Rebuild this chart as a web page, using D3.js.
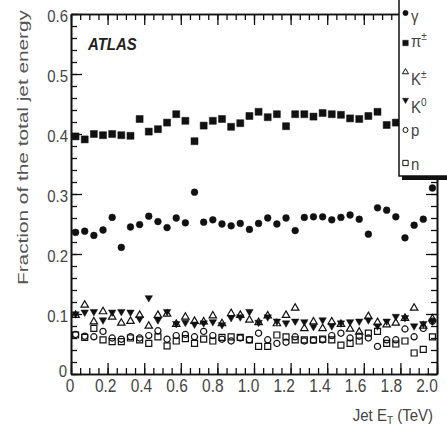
<!DOCTYPE html>
<html>
<head>
<meta charset="utf-8">
<script src="https://cdn.jsdelivr.net/npm/d3@7"></script>
<style>
  html, body { margin: 0; padding: 0; background: #fff; }
  svg { display: block; }
  text { font-family: "Liberation Sans", Arial, sans-serif; }
</style>
</head>
<body>
<script>
// Jet energy fractions carried by each particle species, in 50 GeV bins of jet E_T
const etBins = [0.025, 0.075, 0.125, 0.175, 0.225, 0.275, 0.325, 0.375, 0.425, 0.475,
                0.525, 0.575, 0.625, 0.675, 0.725, 0.775, 0.825, 0.875, 0.925, 0.975,
                1.025, 1.075, 1.125, 1.175, 1.225, 1.275, 1.325, 1.375, 1.425, 1.475,
                1.525, 1.575, 1.625, 1.675, 1.725, 1.775, 1.825, 1.875, 1.925, 1.975];

const photon = [0.236, 0.238, 0.231, 0.240, 0.261, 0.211, 0.245, 0.249, 0.263, 0.254,
                0.244, 0.260, 0.252, 0.303, 0.253, 0.257, 0.250, 0.247, 0.251, 0.241,
                0.251, 0.260, 0.250, 0.260, 0.239, 0.261, 0.262, 0.262, 0.257, 0.261,
                0.265, 0.258, 0.233, 0.277, 0.273, 0.262, 0.227, 0.248, 0.258, 0.310];

const chargedPion = [0.396, 0.391, 0.400, 0.398, 0.400, 0.398, 0.397, 0.425, 0.404, 0.408,
                     0.419, 0.433, 0.422, 0.388, 0.414, 0.422, 0.425, 0.412, 0.418, 0.430,
                     0.437, 0.428, 0.433, 0.413, 0.433, 0.433, 0.429, 0.435, 0.433, 0.432,
                     0.426, 0.425, 0.430, 0.437, 0.415, 0.419, 0.418, 0.408, 0.425, 0.421];

const chargedKaon = [0.098, 0.115, 0.087, 0.104, 0.095, 0.085, 0.088, 0.098, 0.080, 0.098,
                     0.100, 0.083, 0.095, 0.088, 0.087, 0.097, 0.084, 0.101, 0.098, 0.090,
                     0.086, 0.097, 0.084, 0.098, 0.110, 0.076, 0.087, 0.076, 0.087, 0.083,
                     0.075, 0.070, 0.096, 0.086, 0.082, 0.085, 0.093, 0.110, 0.080, 0.092];

const neutralKaon = [0.100, 0.103, 0.104, 0.090, 0.103, 0.104, 0.103, 0.092, 0.127, 0.090,
                     0.104, 0.084, 0.086, 0.083, 0.085, 0.087, 0.082, 0.094, 0.095, 0.104,
                     0.086, 0.095, 0.088, 0.085, 0.088, 0.087, 0.079, 0.090, 0.080, 0.085,
                     0.087, 0.088, 0.090, 0.080, 0.088, 0.096, 0.094, 0.080, 0.084, 0.088];

const proton = [0.066, 0.063, 0.062, 0.071, 0.060, 0.058, 0.062, 0.060, 0.064, 0.072,
                0.058, 0.064, 0.066, 0.062, 0.071, 0.064, 0.058, 0.055, 0.060, 0.057,
                0.068, 0.057, 0.051, 0.053, 0.062, 0.055, 0.056, 0.057, 0.064, 0.068,
                0.060, 0.063, 0.060, 0.046, 0.057, 0.057, 0.075, 0.062, 0.076, 0.088];

const neutron = [0.065, 0.061, 0.076, 0.057, 0.054, 0.054, 0.060, 0.057, 0.051, 0.062,
                 0.047, 0.055, 0.059, 0.051, 0.058, 0.055, 0.061, 0.062, 0.061, 0.057,
                 0.046, 0.046, 0.065, 0.062, 0.057, 0.057, 0.057, 0.058, 0.057, 0.048,
                 0.051, 0.055, 0.068, 0.071, 0.051, 0.050, 0.055, 0.035, 0.041, 0.062];

const xMajorTicks = [0, 0.2, 0.4, 0.6, 0.8, 1.0, 1.2, 1.4, 1.6, 1.8, 2.0];
const xTickLabels = ["0", "0.2", "0.4", "0.6", "0.8", "1.0", "1.2", "1.4", "1.6", "1.8", "2.0"];
const yMajorTicks = [0, 0.1, 0.2, 0.3, 0.4, 0.5, 0.6];
const yTickLabels = ["0", "0.1", "0.2", "0.3", "0.4", "0.5", "0.6"];

const W = 447, H = 433;
const svg = d3.select("body").append("svg").attr("width", W).attr("height", H);

const x = d3.scaleLinear().domain([0, 2]).range([71, 437]);
const y = d3.scaleLinear().domain([0, 0.6]).range([374, 14]);

const xMinor = d3.range(0, 2.0001, 0.05);
const yMinor = d3.range(0, 0.6001, 0.02);

const ink = "#111";
const textInk = "#444";

// frame with inward ticks on all four sides
function frameAxis(axisFn, scale, ticks, size, transform) {
  const g = svg.append("g").attr("transform", transform)
    .call(axisFn(scale).tickValues(ticks).tickSize(-size).tickSizeOuter(0).tickFormat(""));
  g.select(".domain").attr("stroke", ink).attr("stroke-width", 1.6);
  g.selectAll(".tick line").attr("stroke", ink).attr("stroke-width", 1.3);
  return g;
}
frameAxis(d3.axisBottom, x, xMinor, 6, "translate(0,374)");
frameAxis(d3.axisBottom, x, xMajorTicks, 11, "translate(0,374)");
frameAxis(d3.axisTop, x, xMinor, 6, "translate(0,14)");
frameAxis(d3.axisTop, x, xMajorTicks, 11, "translate(0,14)");
frameAxis(d3.axisLeft, y, yMinor, 6, "translate(71,0)");
frameAxis(d3.axisLeft, y, yMajorTicks, 11, "translate(71,0)");
frameAxis(d3.axisRight, y, yMinor, 6, "translate(437,0)");
frameAxis(d3.axisRight, y, yMajorTicks, 11, "translate(437,0)");

// text helper: slightly tall glyphs
function label(str, tx, ty, size, anchor, extra) {
  const t = svg.append("text")
    .attr("transform", `translate(${tx},${ty}) scale(1,1.15)`)
    .attr("font-size", size)
    .attr("text-anchor", anchor || "start")
    .attr("fill", textInk)
    .text(str);
  if (extra) extra(t);
  return t;
}

// tick labels
xMajorTicks.forEach((v, i) => label(xTickLabels[i], x(v) - 1 - 4.5 * v, 392, 15.5, "middle"));
yMajorTicks.forEach((v, i) => {
  if (i === 0) label(yTickLabels[i], 67, 377, 15, "end");
  else label(yTickLabels[i], 68, y(v) + 7.5, 15, "end");
});

// axis titles
const xt = svg.append("text")
  .attr("transform", "translate(433,421) scale(1,1.15)")
  .attr("font-size", 15).attr("text-anchor", "end").attr("fill", textInk);
xt.append("tspan").text("Jet E");
xt.append("tspan").attr("font-size", 10).attr("dy", 3).text("T");
xt.append("tspan").attr("dy", -3).text(" (TeV)");

svg.append("text")
  .attr("transform", "translate(28,285) rotate(-90)")
  .attr("font-size", 15).attr("fill", "#555")
  .attr("textLength", 275).attr("lengthAdjust", "spacingAndGlyphs")
  .text("Fraction of the total jet energy");

label("ATLAS", 88, 50, 15, "start", t => t.attr("font-weight", "bold").attr("font-style", "italic").attr("fill", "#222"));

// markers
const sym = (type, size) => d3.symbol().type(type).size(size)();
const series = [
  { name: "n",   data: neutron,     path: sym(d3.symbolSquare, 36), fill: "none", rot: 0 },
  { name: "p",   data: proton,      path: sym(d3.symbolCircle, 30), fill: "none", rot: 0 },
  { name: "K±",  data: chargedKaon, path: sym(d3.symbolTriangle, 24), fill: "none", rot: 0 },
  { name: "K0",  data: neutralKaon, path: sym(d3.symbolTriangle, 24), fill: ink, rot: 180 },
  { name: "γ",   data: photon,      path: sym(d3.symbolCircle, 36), fill: ink, rot: 0 },
  { name: "π±",  data: chargedPion, path: sym(d3.symbolSquare, 49), fill: ink, rot: 0 }
];

series.forEach(s => {
  svg.append("g").selectAll("path")
    .data(s.data)
    .join("path")
    .attr("d", s.path)
    .attr("transform", (d, i) => `translate(${x(etBins[i])},${y(d)}) rotate(${s.rot})`)
    .attr("fill", s.fill)
    .attr("stroke", ink)
    .attr("stroke-width", s.fill === "none" ? 1.2 : 0.5);
});

// legend box with drop shadow, running off the top right corner
svg.append("rect").attr("x", 402).attr("y", -5).attr("width", 60).attr("height", 185).attr("fill", ink);
svg.append("rect").attr("x", 399).attr("y", -5).attr("width", 60).attr("height", 181)
  .attr("fill", "#fff").attr("stroke", ink).attr("stroke-width", 1.5);

const legendRows = [
  { key: "γ",  sup: "",  path: sym(d3.symbolCircle, 22),   fill: ink,    rot: 0,   my: 13,  ty: 22 },
  { key: "π",  sup: "±", path: sym(d3.symbolSquare, 30),   fill: ink,    rot: 0,   my: 43,  ty: 47 },
  { key: "K",  sup: "±", path: sym(d3.symbolTriangle, 16), fill: "none", rot: 0,   my: 72,  ty: 85 },
  { key: "K",  sup: "0", path: sym(d3.symbolTriangle, 16), fill: ink,    rot: 180, my: 100, ty: 113 },
  { key: "p",  sup: "",  path: sym(d3.symbolCircle, 20),   fill: "none", rot: 0,   my: 130, ty: 136 },
  { key: "n",  sup: "",  path: sym(d3.symbolSquare, 28),   fill: "none", rot: 0,   my: 163, ty: 170 }
];
legendRows.forEach(r => {
  svg.append("path").attr("d", r.path)
    .attr("transform", `translate(405.5,${r.my}) rotate(${r.rot})`)
    .attr("fill", r.fill).attr("stroke", ink).attr("stroke-width", r.fill === "none" ? 1 : 0.5);
  const t = svg.append("text")
    .attr("transform", `translate(411,${r.ty}) scale(1,1.1)`)
    .attr("font-size", 15).attr("fill", textInk);
  t.append("tspan").text(r.key);
  if (r.sup) t.append("tspan").attr("font-size", 10).attr("dy", -6).text(r.sup);
});
</script>
</body>
</html>
